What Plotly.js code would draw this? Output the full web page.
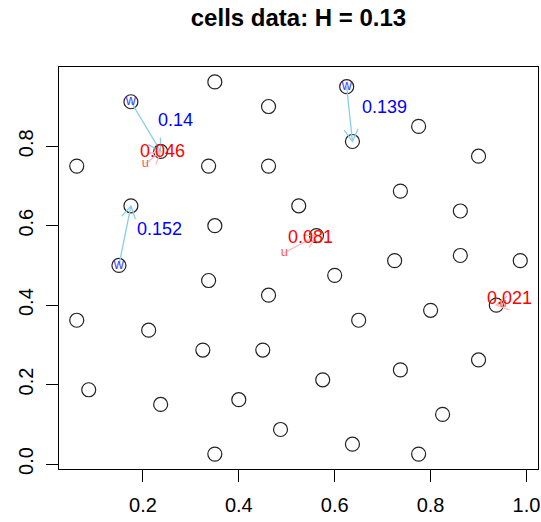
<!DOCTYPE html>
<html>
<head>
<meta charset="utf-8">
<script src="https://cdn.plot.ly/plotly-3.0.1.min.js"></script>
<style>html,body{margin:0;padding:0;background:#fff;}#chart{width:541px;height:522px;}</style>
</head>
<body>
<div id="chart"></div>
<script>
// cells point pattern (42 points)
const cellsX = [0.350, 0.462, 0.175, 0.237, 0.062, 0.337, 0.462, 0.175, 0.350, 0.150,
                0.625, 0.637, 0.775, 0.900, 0.737, 0.862, 0.525, 0.562, 0.725, 0.862,
                0.987, 0.600, 0.337, 0.462, 0.062, 0.212, 0.325, 0.450, 0.087, 0.237,
                0.400, 0.350, 0.800, 0.650, 0.937, 0.900, 0.737, 0.575, 0.825, 0.487,
                0.637, 0.775];
const cellsY = [0.962, 0.900, 0.912, 0.787, 0.750, 0.750, 0.750, 0.650, 0.600, 0.500,
                0.950, 0.812, 0.850, 0.775, 0.687, 0.637, 0.650, 0.575, 0.512, 0.525,
                0.512, 0.475, 0.462, 0.425, 0.362, 0.337, 0.287, 0.287, 0.187, 0.150,
                0.162, 0.025, 0.387, 0.362, 0.400, 0.262, 0.237, 0.212, 0.125, 0.087,
                0.050, 0.025];

// "w" points and their arrows
const wFromX = [0.175, 0.625, 0.150];
const wFromY = [0.912, 0.950, 0.500];
const wToX   = [0.237, 0.637, 0.175];
const wToY   = [0.787, 0.812, 0.650];
const wLabels = ['0.14', '0.139', '0.152'];

// "u" points and their arrows
const uFromX = [0.205, 0.495, 0.951];
const uFromY = [0.755, 0.532, 0.403];
const uToX   = [0.237, 0.562, 0.937];
const uToY   = [0.787, 0.575, 0.400];
const uLabels = ['0.046', '0.081', '0.021'];

const xTicks = [0.2, 0.4, 0.6, 0.8, 1.0];
const xTickText = ['0.2', '0.4', '0.6', '0.8', '1.0'];
const yTicks = [0.0, 0.2, 0.4, 0.6, 0.8];
const yTickText = ['0.0', '0.2', '0.4', '0.6', '0.8'];

const titleText = 'cells data: H = 0.13';

function rRange(v) {
  const lo = Math.min(...v), hi = Math.max(...v), d = (hi - lo) * 0.04;
  return [lo - d, hi + d];
}

const FONT = 'Liberation Sans, Arial, Helvetica, sans-serif';
const W = 541, H = 522;
const M = {l: 59, r: 3, t: 67, b: 53, pad: 0};
const xr = rRange(cellsX), yr = rRange(cellsY);
const sx = (W - M.l - M.r) / (xr[1] - xr[0]);
const sy = (H - M.t - M.b) / (yr[1] - yr[0]);

// R-style arrows: shaft plus open "V" head (30 degrees), head length in pixels
function arrowPath(fx, fy, tx, ty, headPx) {
  const xs = [], ys = [];
  for (let i = 0; i < fx.length; i++) {
    const ang = Math.atan2((ty[i] - fy[i]) * sy, (tx[i] - fx[i]) * sx);
    const a1 = ang + Math.PI - Math.PI / 6, a2 = ang + Math.PI + Math.PI / 6;
    xs.push(fx[i], tx[i], null,
            tx[i] + headPx * Math.cos(a1) / sx, tx[i], tx[i] + headPx * Math.cos(a2) / sx, null);
    ys.push(fy[i], ty[i], null,
            ty[i] + headPx * Math.sin(a1) / sy, ty[i], ty[i] + headPx * Math.sin(a2) / sy, null);
  }
  return {xs, ys};
}
const wArr = arrowPath(wFromX, wFromY, wToX, wToY, 14);
const uArr = arrowPath(uFromX, uFromY, uToX, uToY, 14);

const traces = [
  {
    x: cellsX, y: cellsY, type: 'scatter', mode: 'markers',
    marker: {symbol: 'circle-open', size: 14, color: '#222', line: {width: 1.2, color: '#222'}},
    hoverinfo: 'skip', showlegend: false
  },
  {
    x: wArr.xs, y: wArr.ys, type: 'scatter', mode: 'lines', connectgaps: false,
    line: {color: '#87CEEB', width: 1.3}, hoverinfo: 'skip', showlegend: false
  },
  {
    x: uArr.xs, y: uArr.ys, type: 'scatter', mode: 'lines', connectgaps: false,
    line: {color: '#FFB6C1', width: 1.3}, hoverinfo: 'skip', showlegend: false
  },
  {
    x: wFromX, y: wFromY, type: 'scatter', mode: 'text', text: wFromX.map(() => 'w'),
    textposition: 'middle center', textfont: {family: FONT, size: 14, color: '#4444ff'},
    hoverinfo: 'skip', showlegend: false
  },
  {
    x: uFromX, y: uFromY, type: 'scatter', mode: 'text', text: uFromX.map(() => 'u'),
    textposition: 'middle center', textfont: {family: FONT, size: 13, color: '#ff5a5a'},
    hoverinfo: 'skip', showlegend: false
  }
];

const annotations = [];
for (let i = 0; i < wLabels.length; i++) {
  annotations.push({
    x: (wFromX[i] + wToX[i]) / 2, y: (wFromY[i] + wToY[i]) / 2,
    xref: 'x', yref: 'y', text: wLabels[i], showarrow: false,
    xanchor: 'left', yanchor: 'middle', xshift: 10, yshift: 7,
    font: {family: FONT, size: 18, color: '#0000ff'}
  });
}
for (let i = 0; i < uLabels.length; i++) {
  annotations.push({
    x: (uFromX[i] + uToX[i]) / 2, y: (uFromY[i] + uToY[i]) / 2,
    xref: 'x', yref: 'y', text: uLabels[i], showarrow: false,
    xanchor: 'center', yanchor: 'middle', xshift: 10, yshift: 7,
    font: {family: FONT, size: 18, color: '#ff0000'}
  });
}

const layout = {
  width: W, height: H,
  margin: M,
  paper_bgcolor: '#fff', plot_bgcolor: '#fff',
  font: {family: FONT, color: '#000'},
  title: {
    text: '<b>' + titleText + '</b>',
    font: {family: FONT, size: 24, color: '#000'},
    x: 0.5, xref: 'paper', xanchor: 'center',
    y: 1 - 18 / 522, yref: 'container', yanchor: 'middle'
  },
  xaxis: {
    range: xr, tickvals: xTicks, ticktext: xTickText,
    ticks: 'outside', ticklen: 12, tickwidth: 1, tickcolor: '#000',
    showline: true, mirror: true, linecolor: '#000', linewidth: 1,
    showgrid: false, zeroline: false, tickfont: {family: FONT, size: 20, color: '#000'},
    ticklabelstandoff: 6
  },
  yaxis: {
    range: yr, tickvals: yTicks, ticktext: yTickText, tickangle: -90,
    ticks: 'outside', ticklen: 12, tickwidth: 1, tickcolor: '#000',
    showline: true, mirror: true, linecolor: '#000', linewidth: 1,
    showgrid: false, zeroline: false, tickfont: {family: FONT, size: 20, color: '#000'},
    ticklabelstandoff: 5
  },
  annotations: annotations
};

Plotly.newPlot('chart', traces, layout, {staticPlot: true, displayModeBar: false});
</script>
</body>
</html>
